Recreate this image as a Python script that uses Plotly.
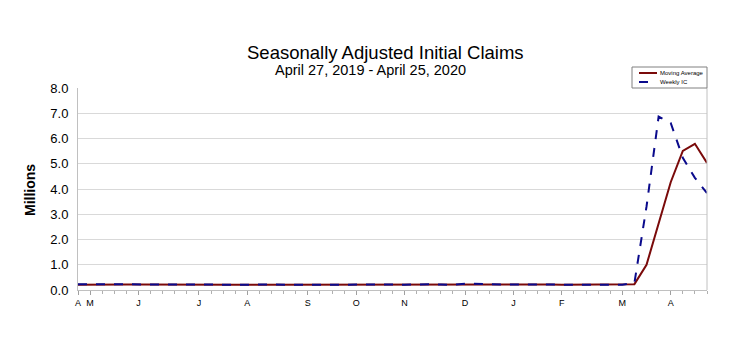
import plotly.graph_objects as go

weeks = ["2019-04-27","2019-05-04","2019-05-11","2019-05-18","2019-05-25","2019-06-01","2019-06-08","2019-06-15",
         "2019-06-22","2019-06-29","2019-07-06","2019-07-13","2019-07-20","2019-07-27","2019-08-03","2019-08-10",
         "2019-08-17","2019-08-24","2019-08-31","2019-09-07","2019-09-14","2019-09-21","2019-09-28","2019-10-05",
         "2019-10-12","2019-10-19","2019-10-26","2019-11-02","2019-11-09","2019-11-16","2019-11-23","2019-11-30",
         "2019-12-07","2019-12-14","2019-12-21","2019-12-28","2020-01-04","2020-01-11","2020-01-18","2020-01-25",
         "2020-02-01","2020-02-08","2020-02-15","2020-02-22","2020-02-29","2020-03-07","2020-03-14","2020-03-21",
         "2020-03-28","2020-04-04","2020-04-11","2020-04-18","2020-04-25"]

weekly_ic = [0.230,0.228,0.212,0.211,0.215,0.218,0.222,0.216,0.227,0.221,0.209,0.216,0.206,0.215,0.209,0.220,
             0.209,0.215,0.217,0.204,0.208,0.213,0.219,0.210,0.214,0.212,0.218,0.211,0.225,0.227,0.213,0.203,
             0.252,0.235,0.220,0.222,0.214,0.204,0.223,0.216,0.202,0.205,0.210,0.219,0.216,0.211,0.282,3.307,
             6.867,6.615,5.237,4.442,3.839]

moving_avg = [0.212,0.220,0.225,0.220,0.217,0.214,0.217,0.218,0.221,0.222,0.218,0.218,0.213,0.212,0.212,0.213,
              0.213,0.213,0.215,0.211,0.211,0.211,0.211,0.214,0.214,0.214,0.214,0.214,0.217,0.220,0.222,0.217,
              0.229,0.226,0.228,0.232,0.223,0.215,0.216,0.214,0.211,0.212,0.208,0.209,0.213,0.215,0.232,0.998,
              2.667,4.268,5.507,5.790,5.033]

series_names = ["Moving Average", "Weekly IC"]
month_tick_dates = ["2019-04-27","2019-05-04","2019-06-01","2019-07-06","2019-08-03","2019-09-07","2019-10-05",
                    "2019-11-02","2019-12-07","2020-01-04","2020-02-01","2020-03-07","2020-04-04"]
month_tick_labels = ["A","M","J","J","A","S","O","N","D","J","F","M","A"]

MA_COLOR = "#7a0a0a"
IC_COLOR = "#0a0a8c"

L, R, T, B, W, H = 78, 41, 88, 65, 748, 355
pw, ph = W - L - R, H - T - B
def px(x): return (x - L) / pw
def py(y): return (H - B - y) / ph

fig = go.Figure()
fig.add_trace(go.Scatter(x=weeks, y=moving_avg, mode="lines", name=series_names[0],
                         line=dict(color=MA_COLOR, width=2)))
fig.add_trace(go.Scatter(x=weeks, y=weekly_ic, mode="lines", name=series_names[1],
                         line=dict(color=IC_COLOR, width=2, dash="dash")))

fig.update_layout(
    width=W, height=H,
    margin=dict(l=L, r=R, t=T, b=B),
    paper_bgcolor="white", plot_bgcolor="white",
    font=dict(family="Liberation Sans, Arial, sans-serif", color="black"),
    showlegend=False,
    annotations=[
        dict(text="Seasonally Adjusted Initial Claims", x=px(385), y=py(52), xref="paper", yref="paper",
             showarrow=False, font=dict(size=18.5), xanchor="center", yanchor="middle"),
        dict(text="April 27, 2019 - April 25, 2020", x=px(370), y=py(70), xref="paper", yref="paper",
             showarrow=False, font=dict(size=14.5), xanchor="center", yanchor="middle"),
        dict(text="<b>Millions</b>", x=px(30), y=py(190), xref="paper", yref="paper", textangle=-90,
             showarrow=False, font=dict(size=14), xanchor="center", yanchor="middle"),
        dict(text=series_names[0], x=px(658), y=py(73), xref="paper", yref="paper",
             showarrow=False, font=dict(size=6), xanchor="left", yanchor="middle"),
        dict(text=series_names[1], x=px(658), y=py(82), xref="paper", yref="paper",
             showarrow=False, font=dict(size=6), xanchor="left", yanchor="middle"),
    ],
    shapes=[
        dict(type="line", xref="paper", yref="paper", x0=1, x1=1, y0=0, y1=1,
             line=dict(color="#c0c0c0", width=1)),
        dict(type="rect", xref="paper", yref="paper", x0=px(632), x1=px(707), y0=py(67), y1=py(88),
             line=dict(color="#808080", width=1), fillcolor="white", layer="above"),
        dict(type="line", xref="paper", yref="paper", x0=px(639), x1=px(657), y0=py(73), y1=py(73),
             line=dict(color=MA_COLOR, width=2), layer="above"),
        dict(type="line", xref="paper", yref="paper", x0=px(639), x1=px(657), y0=py(82), y1=py(82),
             line=dict(color=IC_COLOR, width=2, dash="dash"), layer="above"),
    ],
)

fig.update_xaxes(
    range=["2019-04-27", "2020-04-25"],
    tickvals=month_tick_dates, ticktext=month_tick_labels,
    tickfont=dict(size=9), ticks="outside", ticklen=4, tickcolor="#a0a0a0",
    showgrid=False, showline=True, linecolor="#c0c0c0", linewidth=1, mirror=False,
    minor=dict(dtick=7*24*3600*1000, tick0="2019-04-27", ticks="outside", ticklen=3, tickcolor="#b0b0b0", showgrid=False),
    zeroline=False,
)
fig.update_yaxes(
    range=[0, 8], dtick=1, tickformat=".1f", tickfont=dict(size=13),
    showgrid=True, gridcolor="#d9d9d9", gridwidth=1,
    showline=True, linecolor="#c0c0c0", linewidth=1, zeroline=False,
    ticks="", ticklabelstandoff=6,
)

fig.write_html("out.html")
